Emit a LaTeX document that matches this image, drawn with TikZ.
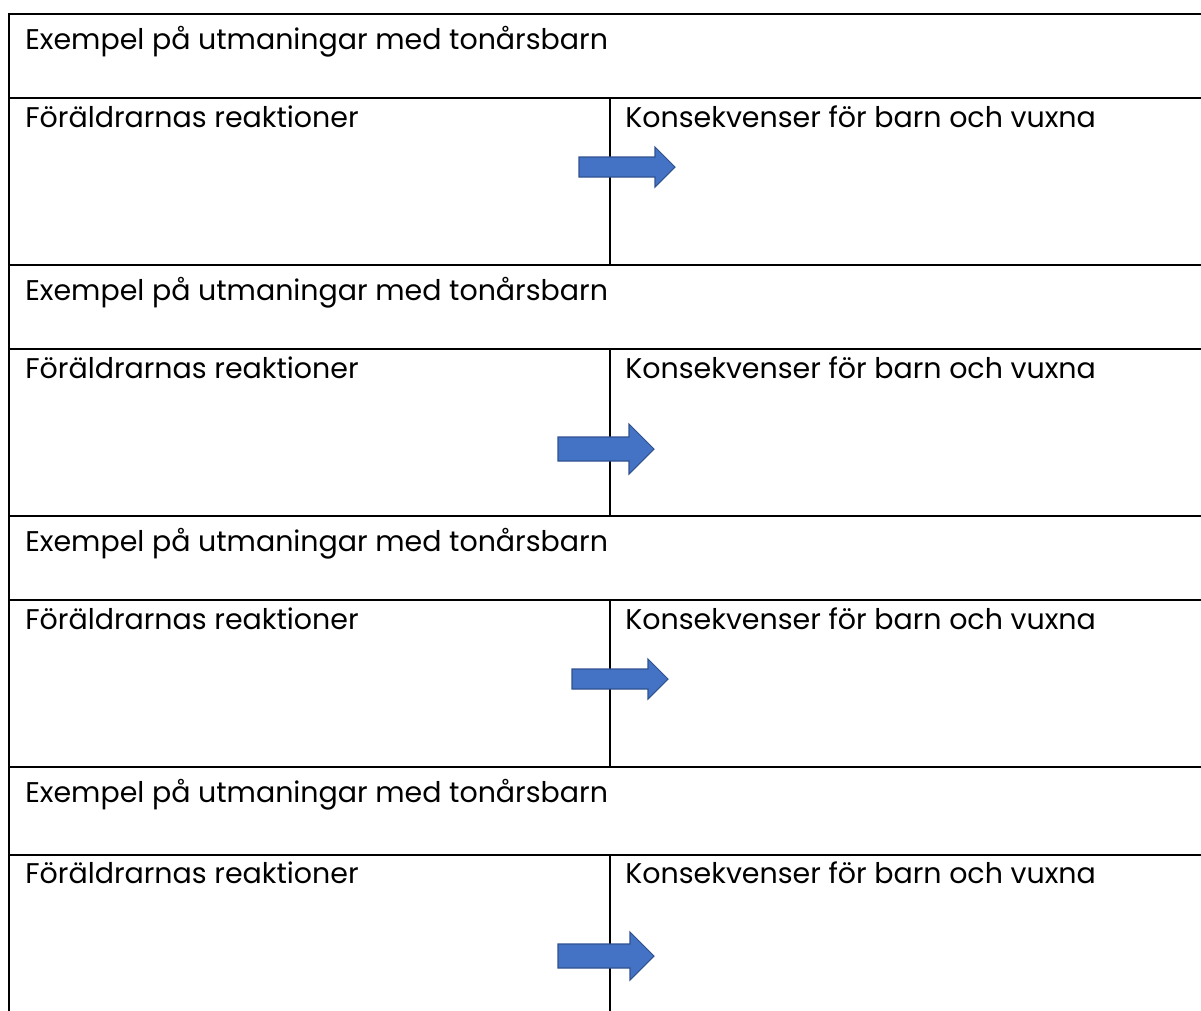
\documentclass[tikz,border=0pt]{standalone}
\usepackage{fontspec}
\setmainfont{Poppins}
\usepackage{xcolor}
\usepackage{tikz}
\usetikzlibrary{positioning}

\definecolor{pilfill}{HTML}{4472C4}
\definecolor{pilline}{HTML}{2F528F}

% block arrow: name, x of tail, y of centre, half shaft, half head
\newcommand{\pil}[5]{%
	\coordinate (#1) at (#2,#3);
	\draw [pil] ({#2},{#3-#4}) -- ({#2+96-#5},{#3-#4}) -- ({#2+96-#5},{#3-#5}) -- ({#2+96},{#3})
		-- ({#2+96-#5},{#3+#5}) -- ({#2+96-#5},{#3+#4}) -- ({#2},{#3+#4}) -- cycle;
}

\begin{document}
\begin{tikzpicture}
[
	x = 0.02cm, y = -0.02cm,
	cell/.style	= {anchor = base west, inner sep = 0pt, font = \fontsize{16.2}{19}\selectfont},
	rule/.style	= {line width = 1.2pt, line cap = rect},
	pil/.style	= {fill = pilfill, draw = pilline, line width = 0.6pt, line join = miter},
]

	\useasboundingbox (0,0) rectangle (1201,1011);

	% rows
	\draw [rule] (9,14) -- (1201,14);
	\draw [rule] (9,98) -- (1201,98);
	\draw [rule] (9,265) -- (1201,265);
	\draw [rule] (9,349) -- (1201,349);
	\draw [rule] (9,516) -- (1201,516);
	\draw [rule] (9,600) -- (1201,600);
	\draw [rule] (9,767) -- (1201,767);
	\draw [rule] (9,855) -- (1201,855);
	%
	\draw [rule] (9,14) -- (9,1015);
	\draw [rule] (610,98) -- (610,265);
	\draw [rule] (610,349) -- (610,516);
	\draw [rule] (610,600) -- (610,767);
	\draw [rule] (610,855) -- (610,1015);

	\node (ex1) [cell] at (25,49) {Exempel på utmaningar med tonårsbarn};
	\node (reak1) [cell] at (25,127) {Föräldrarnas reaktioner};
	\node (kons1) [cell] at (625,127) {Konsekvenser för barn och vuxna};
	%
	\node (ex2) [cell] at (25,300) {Exempel på utmaningar med tonårsbarn};
	\node (reak2) [cell] at (25,378) {Föräldrarnas reaktioner};
	\node (kons2) [cell] at (625,378) {Konsekvenser för barn och vuxna};
	%
	\node (ex3) [cell] at (25,551) {Exempel på utmaningar med tonårsbarn};
	\node (reak3) [cell] at (25,629) {Föräldrarnas reaktioner};
	\node (kons3) [cell] at (625,629) {Konsekvenser för barn och vuxna};
	%
	\node (ex4) [cell] at (25,802) {Exempel på utmaningar med tonårsbarn};
	\node (reak4) [cell] at (25,883) {Föräldrarnas reaktioner};
	\node (kons4) [cell] at (625,883) {Konsekvenser för barn och vuxna};

	\pil{pil1}{579}{167}{10}{20}
	\pil{pil2}{558}{449}{12}{25}
	\pil{pil3}{572}{679}{10}{20}
	\pil{pil4}{558}{956}{12}{24}

\end{tikzpicture}
\end{document}
